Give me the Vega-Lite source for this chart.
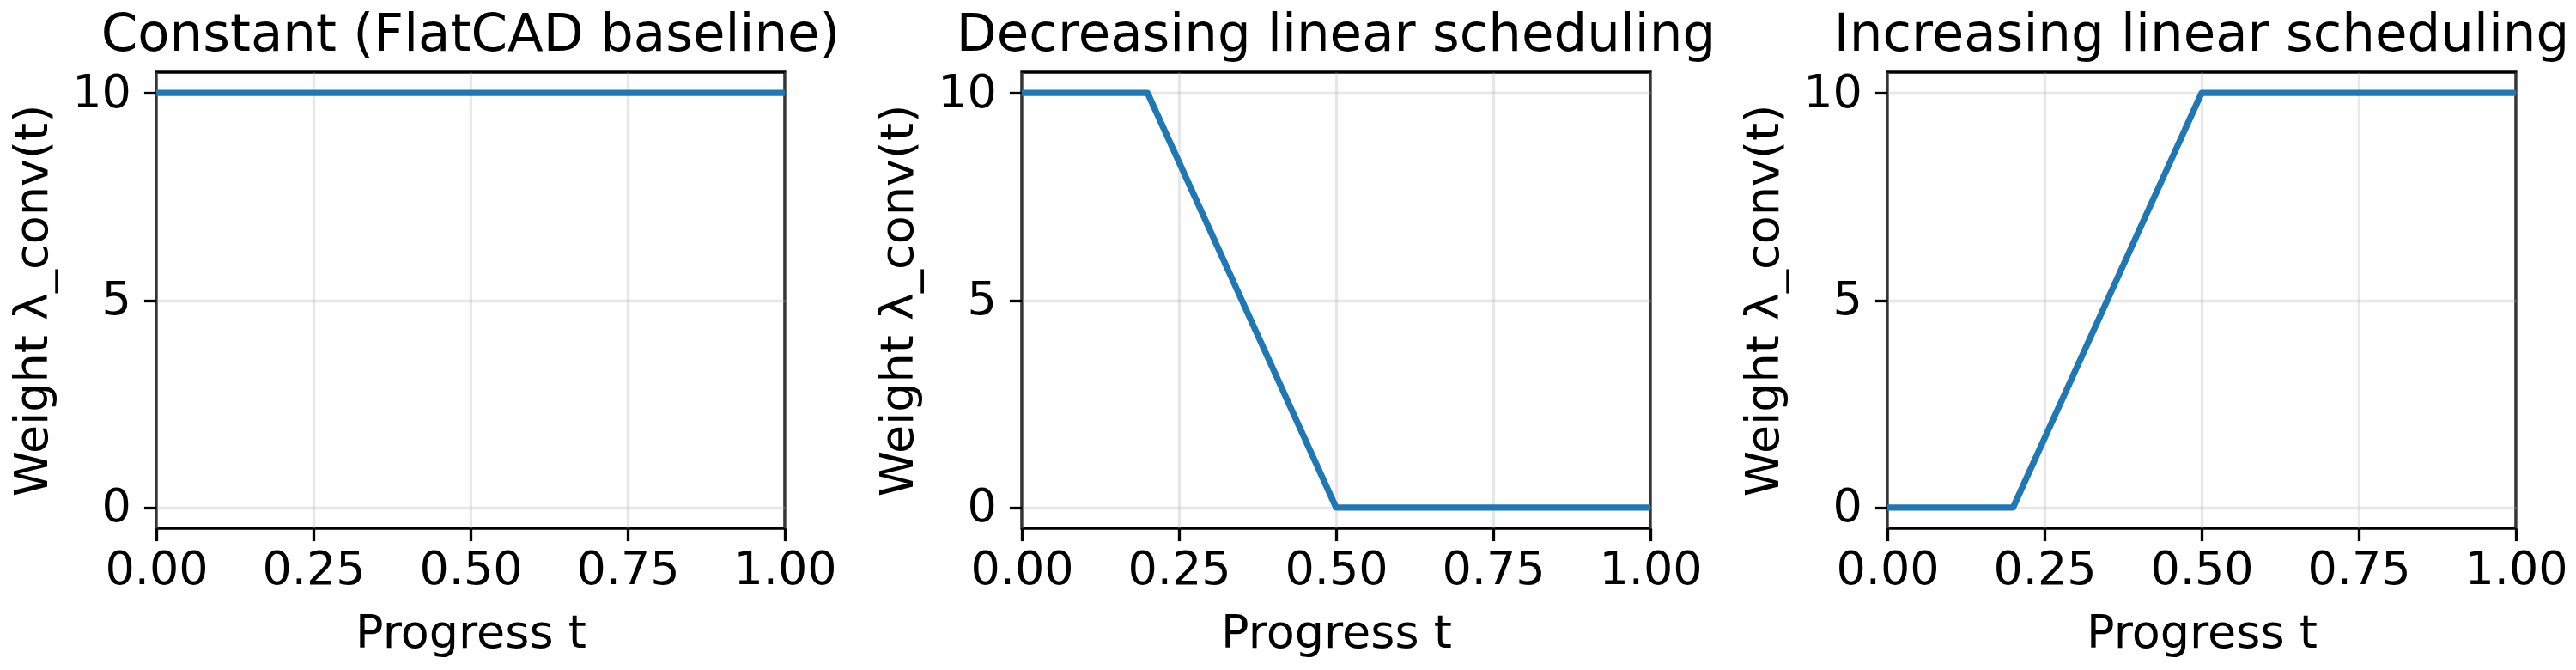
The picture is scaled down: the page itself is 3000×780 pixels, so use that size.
{
  "$schema": "https://vega.github.io/schema/vega-lite/v6.json",
  "background": "white",
  "padding": {"left": 10, "top": 8, "right": 5, "bottom": 5},
  "bounds": "flush",
  "spacing": 276,
  "data": {
    "values": [
      {"panel": "Constant", "t": 0.0, "w": 10},
      {"panel": "Constant", "t": 1.0, "w": 10},
      {"panel": "Decreasing", "t": 0.0, "w": 10},
      {"panel": "Decreasing", "t": 0.2, "w": 10},
      {"panel": "Decreasing", "t": 0.5, "w": 0},
      {"panel": "Decreasing", "t": 1.0, "w": 0},
      {"panel": "Increasing", "t": 0.0, "w": 0},
      {"panel": "Increasing", "t": 0.2, "w": 0},
      {"panel": "Increasing", "t": 0.5, "w": 10},
      {"panel": "Increasing", "t": 1.0, "w": 10}
    ]
  },
  "config": {
    "font": "DejaVu Sans",
    "view": {"stroke": "black", "strokeWidth": 3.3},
    "title": {"font": "DejaVu Sans", "fontSize": 61, "fontWeight": "normal", "color": "black", "anchor": "middle", "baseline": "alphabetic", "offset": 9, "frame": "group"},
    "axis": {
      "labelFont": "DejaVu Sans", "titleFont": "DejaVu Sans",
      "labelFontSize": 54, "titleFontSize": 54, "titleFontWeight": "normal",
      "labelColor": "black", "titleColor": "black",
      "domain": false,
      "tickColor": "black", "tickWidth": 3.3, "tickSize": 14.6,
      "grid": true, "gridColor": "#b0b0b0", "gridOpacity": 0.3, "gridWidth": 3.3
    },
    "axisX": {"labelPadding": 7, "titlePadding": 20},
    "axisY": {"labelPadding": 15, "titlePadding": 18}
  },
  "hconcat": [
    {
      "title": {"text": "Constant (FlatCAD baseline)"},
      "width": 732, "height": 531,
      "transform": [{"filter": "datum.panel === 'Constant'"}],
      "mark": {"type": "line", "color": "#1f77b4", "strokeWidth": 7.3, "clip": true, "strokeJoin": "round"},
      "encoding": {
        "x": {"field": "t", "type": "quantitative", "scale": {"domain": [0, 1], "nice": false, "zero": false}, "axis": {"values": [0, 0.25, 0.5, 0.75, 1], "format": ".2f", "title": "Progress t", "labelFlush": false}},
        "y": {"field": "w", "type": "quantitative", "scale": {"domain": [-0.5, 10.5], "nice": false, "zero": false}, "axis": {"values": [0, 5, 10], "format": "d", "title": "Weight λ_conv(t)"}}
      }
    },
    {
      "title": {"text": "Decreasing linear scheduling"},
      "width": 732, "height": 531,
      "transform": [{"filter": "datum.panel === 'Decreasing'"}],
      "mark": {"type": "line", "color": "#1f77b4", "strokeWidth": 7.3, "clip": true, "strokeJoin": "round"},
      "encoding": {
        "x": {"field": "t", "type": "quantitative", "scale": {"domain": [0, 1], "nice": false, "zero": false}, "axis": {"values": [0, 0.25, 0.5, 0.75, 1], "format": ".2f", "title": "Progress t", "labelFlush": false}},
        "y": {"field": "w", "type": "quantitative", "scale": {"domain": [-0.5, 10.5], "nice": false, "zero": false}, "axis": {"values": [0, 5, 10], "format": "d", "title": "Weight λ_conv(t)"}}
      }
    },
    {
      "title": {"text": "Increasing linear scheduling"},
      "width": 732, "height": 531,
      "transform": [{"filter": "datum.panel === 'Increasing'"}],
      "mark": {"type": "line", "color": "#1f77b4", "strokeWidth": 7.3, "clip": true, "strokeJoin": "round"},
      "encoding": {
        "x": {"field": "t", "type": "quantitative", "scale": {"domain": [0, 1], "nice": false, "zero": false}, "axis": {"values": [0, 0.25, 0.5, 0.75, 1], "format": ".2f", "title": "Progress t", "labelFlush": false}},
        "y": {"field": "w", "type": "quantitative", "scale": {"domain": [-0.5, 10.5], "nice": false, "zero": false}, "axis": {"values": [0, 5, 10], "format": "d", "title": "Weight λ_conv(t)"}}
      }
    }
  ]
}
